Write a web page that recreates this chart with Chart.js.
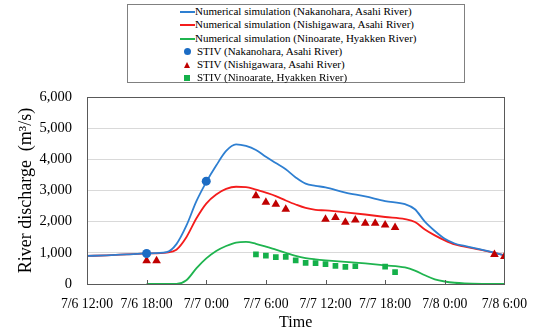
<!DOCTYPE html>
<html>
<head>
<meta charset="utf-8">
<script src="https://cdn.jsdelivr.net/npm/chart.js@4.4.1/dist/chart.umd.min.js"></script>
<style>
  html, body { margin: 0; padding: 0; background: #fff; }
  #wrap { position: relative; width: 539px; height: 335px; }
  #c { position: absolute; left: 0; top: 0; }
  #legend {
    position: absolute; left: 127px; top: 4px; width: 336px; height: 77px;
    border: 1px solid #808080; background: #fff;
    font-family: "Liberation Serif", "Times New Roman", serif; font-size: 11px; color: #000;
  }
  #legend .row { height: 13.3px; line-height: 13.3px; white-space: nowrap; position: relative; }
  #legend .sw { position: absolute; }
  #legend .txt { position: absolute; }
</style>
</head>
<body>
<div id="wrap">
  <canvas id="c" width="539" height="335"></canvas>
  <div id="legend"></div>
</div>
<script>
// ---- Data (hours since 7/6 12:00) ----
const xTickLabels = ['7/6 12:00','7/6 18:00','7/7 0:00','7/7 6:00','7/7 12:00','7/7 18:00','7/8 0:00','7/8 6:00'];
const yTickLabels = ['0','1,000','2,000','3,000','4,000','5,000','6,000'];

const simHours = [0,2,4,6,8,9,10,11,12,13,14,15,16,17,18,19,20,21,22,23,24,26,28,30,32,33,34,35,36,37,38,40,42];
const simNakanohara = [900,920,950,980,1020,1280,1870,2650,3270,3800,4270,4480,4430,4300,4080,3880,3680,3420,3220,3150,3100,2930,2810,2660,2560,2400,2000,1700,1450,1300,1220,1080,920];
const simNishigawara = [900,920,950,980,1010,1100,1500,2100,2580,2870,3050,3120,3110,3030,2930,2820,2680,2550,2440,2380,2360,2300,2230,2150,2080,1990,1750,1560,1400,1270,1200,1070,920];
const simNinoarate = [null,null,null,0,0,0,120,500,820,1060,1220,1330,1350,1290,1200,1100,1000,900,830,790,760,710,660,600,530,430,280,150,80,40,20,5,0];

const stivNakanoharaHours = [6,12];
const stivNakanohara = [980,3300];

const stivNishigawaraHours = [6,7,17,18,19,20,24,25,26,27,28,29,30,31,41,42];
const stivNishigawara = [750,750,2830,2620,2560,2400,2080,2130,1980,2050,1950,1950,1890,1810,950,880];

const stivNinoarateHours = [17,18,19,20,21,22,23,24,25,26,27,30,31];
const stivNinoarate = [950,910,860,870,760,680,670,640,580,550,570,560,380];

const labels = [
  'Numerical simulation (Nakanohara, Asahi River)',
  'Numerical simulation (Nishigawara, Asahi River)',
  'Numerical simulation (Ninoarate, Hyakken River)',
  'STIV (Nakanohara, Asahi River)',
  'STIV (Nishigawara, Asahi River)',
  'STIV (Ninoarate, Hyakken River)'
];

const pts = (xs, ys) => xs.map((x, i) => ({x: x, y: ys[i]}));

const C_BLUE = '#2e7fd1', C_RED = '#f41c1c', C_GREEN = '#1fb44f';
const M_BLUE = '#1c6cc4', M_RED = '#c00000', M_GREEN = '#14b04a';

const lineDs = (label, ys, color) => ({
  type: 'line', label, data: pts(simHours, ys), borderColor: color, backgroundColor: color,
  borderWidth: 1.8, pointRadius: 0, tension: 0.4, cubicInterpolationMode: 'monotone', spanGaps: false, order: 2
});
const markDs = (label, xs, ys, color, style, r) => ({
  type: 'scatter', label, data: pts(xs, ys), showLine: false, borderColor: color, backgroundColor: color,
  pointStyle: style, pointRadius: r, borderWidth: 0, order: 1
});

const frame = {
  id: 'frame',
  afterDatasetsDraw(chart) {
    const {ctx, chartArea: a, scales: {x}} = chart;
    ctx.save();
    ctx.strokeStyle = '#595959';
    ctx.lineWidth = 1;
    ctx.beginPath();
    x.ticks.forEach(t => {
      const px = Math.round(x.getPixelForValue(t.value)) + 0.5;
      ctx.moveTo(px, a.bottom); ctx.lineTo(px, a.bottom - 4);
    });
    ctx.stroke();
    ctx.strokeRect(Math.round(a.left) + 0.5, Math.round(a.top) + 0.5, Math.round(a.right - a.left), Math.round(a.bottom - a.top));
    ctx.restore();
  }
};

const serif = '"Liberation Serif", "Times New Roman", serif';

new Chart(document.getElementById('c'), {
  data: {
    datasets: [
      lineDs(labels[0], simNakanohara, C_BLUE),
      lineDs(labels[1], simNishigawara, C_RED),
      lineDs(labels[2], simNinoarate, C_GREEN),
      markDs(labels[3], stivNakanoharaHours, stivNakanohara, M_BLUE, 'circle', 4.5),
      markDs(labels[4], stivNishigawaraHours, stivNishigawara, M_RED, 'triangle', 5),
      markDs(labels[5], stivNinoarateHours, stivNinoarate, M_GREEN, 'rect', 4)
    ]
  },
  options: {
    responsive: false, animation: false, devicePixelRatio: 1,
    layout: { padding: { top: 97, right: 29, left: 0, bottom: 0 } },
    plugins: { legend: { display: false }, tooltip: { enabled: false } },
    scales: {
      x: {
        type: 'linear', min: 0, max: 42,
        afterFit(s) { s.height = 51; },
        afterBuildTicks(s) { s.ticks = xTickLabels.map((_, i) => ({value: i * 6})); },
        ticks: {
          autoSkip: false, maxRotation: 0, padding: 12, color: '#000',
          font: { family: serif, size: 13.7 },
          callback: (v) => xTickLabels[Math.round(v / 6)]
        },
        grid: { display: false, drawTicks: false },
        border: { display: false },
        title: { display: true, text: 'Time', color: '#000', font: { family: serif, size: 16 }, padding: { top: 0, bottom: 3 } }
      },
      y: {
        min: 0, max: 6000,
        afterFit(s) { s.width = 87; },
        afterBuildTicks(s) { s.ticks = yTickLabels.map((_, i) => ({value: i * 1000})); },
        ticks: {
          padding: 15, color: '#000',
          font: { family: serif, size: 14.5 },
          callback: (v) => yTickLabels[Math.round(v / 1000)]
        },
        grid: { color: '#d9d9d9', lineWidth: 1, drawTicks: false },
        border: { display: false },
        title: { display: true, text: 'River discharge  (m³/s)', color: '#000', font: { family: serif, size: 18 }, padding: { top: 15, bottom: 0 } }
      }
    }
  },
  plugins: [frame]
});

// ---- HTML legend built from dataset labels ----
const legend = document.getElementById('legend');
const swatches = [
  {kind: 'line', color: C_BLUE}, {kind: 'line', color: C_RED}, {kind: 'line', color: C_GREEN},
  {kind: 'circle', color: M_BLUE}, {kind: 'triangle', color: M_RED}, {kind: 'square', color: M_GREEN}
];
labels.forEach((lab, i) => {
  const row = document.createElement('div'); row.className = 'row';
  const sw = document.createElement('span'); sw.className = 'sw';
  const s = swatches[i];
  const txt = document.createElement('span'); txt.className = 'txt'; txt.textContent = lab;
  if (s.kind === 'line') {
    Object.assign(sw.style, {left: '52px', top: '6px', width: '15px', height: '2px', background: s.color});
    txt.style.left = '67px';
  } else if (s.kind === 'circle') {
    Object.assign(sw.style, {left: '56px', top: '3.5px', width: '7px', height: '7px', borderRadius: '50%', background: s.color});
    txt.style.left = '69px';
  } else if (s.kind === 'triangle') {
    Object.assign(sw.style, {left: '56px', top: '3.5px', width: '0', height: '0', borderLeft: '3.5px solid transparent', borderRight: '3.5px solid transparent', borderBottom: '6px solid ' + s.color});
    txt.style.left = '69px';
  } else {
    Object.assign(sw.style, {left: '56px', top: '3.5px', width: '6px', height: '6px', background: s.color});
    txt.style.left = '69px';
  }
  row.appendChild(sw); row.appendChild(txt);
  legend.appendChild(row);
});
</script>
</body>
</html>
